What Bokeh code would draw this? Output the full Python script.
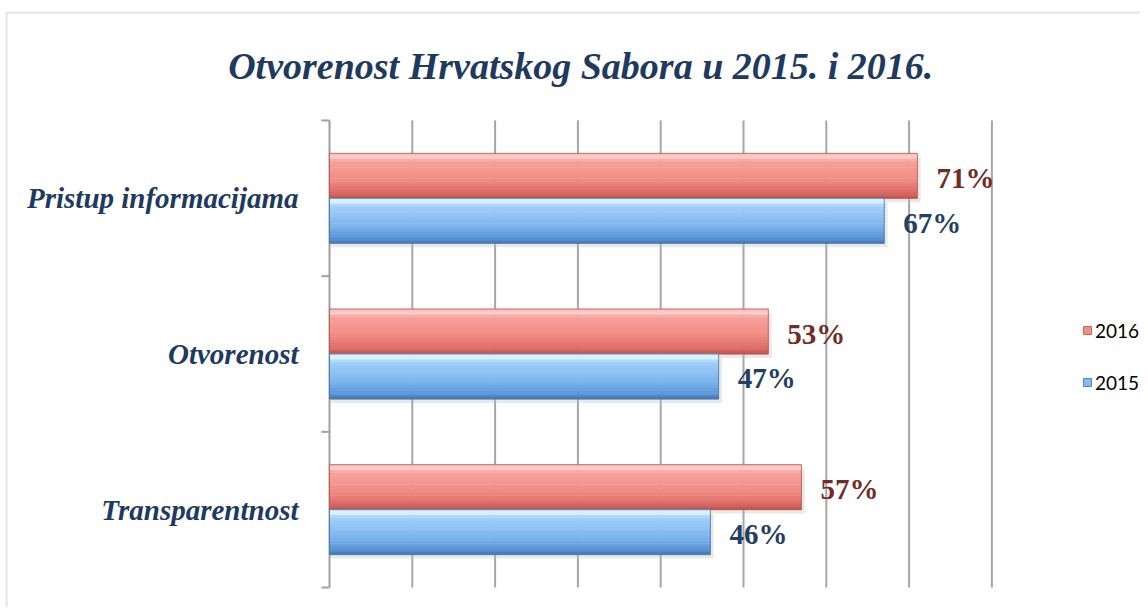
import math
from bokeh.plotting import figure
from bokeh.models import (Range1d, Label, Legend, LegendItem, BoxAnnotation,
                          ColumnDataSource)
from bokeh.core.properties import value
from bokeh.embed import file_html
from bokeh.resources import INLINE

# ---- data ----
categories = ["Pristup informacijama", "Otvorenost", "Transparentnost"]
years = ["2016", "2015"]
values_2016 = [71, 53, 57]
values_2015 = [67, 47, 46]
grid_ticks = [10, 20, 30, 40, 50, 60, 70, 80]
title_text = "Otvorenost Hrvatskog Sabora  u 2015. i 2016."

# ---- layout constants (pixels) ----
W, H = 1140, 607
X0_PX, PX_PER_PCT = 329, 8.28          # where 0 % sits, pixels per percent
Y0_PX, PX_PER_CAT = 587, 155.67        # bottom of the category band, pixels per category
n = len(categories)


def xd(px):   # canvas px -> data x
    return (px - X0_PX) / PX_PER_PCT


def yd(py):   # canvas px (from top) -> data y
    return (Y0_PX - py) / PX_PER_CAT


BAR_H = 0.289
red_stops = [(0.0, "#F3A9A4"), (0.06, "#FDDCD9"), (0.18, "#F7A19B"),
             (0.6, "#F18B85"), (0.88, "#DC6A64"), (1.0, "#BE534E")]
blue_stops = [(0.0, "#BFE6FF"), (0.06, "#EAFDFF"), (0.18, "#A2CFFB"),
              (0.6, "#7EB6F0"), (0.88, "#5D96D8"), (1.0, "#4375B2")]


def interp(stops, t):
    for (t0, c0), (t1, c1) in zip(stops[:-1], stops[1:]):
        if t0 <= t <= t1:
            f = 0 if t1 == t0 else (t - t0) / (t1 - t0)
            a = [int(c0[i:i + 2], 16) for i in (1, 3, 5)]
            b = [int(c1[i:i + 2], 16) for i in (1, 3, 5)]
            return "#%02X%02X%02X" % tuple(round(x + (y - x) * f) for x, y in zip(a, b))
    return stops[-1][1]


centers = [n - 0.5 - i for i in range(n)]
AXIS_COL = "#A0A0A0"
TEXT_COL = "#1F3A5F"

p = figure(width=W, height=H, output_backend="svg", toolbar_location=None,
           x_range=Range1d(xd(0), xd(W)), y_range=Range1d(yd(H), yd(0)),
           x_axis_location=None, y_axis_location=None,
           min_border=0, outline_line_color=None, title=None)
p.background_fill_color = "white"
p.border_fill_color = "white"
p.grid.visible = False

# outer chart border (top and left edges visible)
p.add_layout(BoxAnnotation(left=xd(6), top=yd(12), right=xd(W + 50), bottom=yd(H + 50),
                           fill_alpha=0, line_color="#A6A6A6", line_width=2))

# vertical grid lines
p.segment(x0=grid_ticks, x1=grid_ticks, y0=0, y1=n, line_color="#A6A6A6", line_width=2)

# category axis: line, ticks at band boundaries, labels at band centers
p.segment(x0=[0], x1=[0], y0=[0], y1=[n], line_color=AXIS_COL, line_width=2)
p.ray(x=0, y=list(range(n + 1)), length=8, length_units="screen", angle=math.pi,
      line_color=AXIS_COL, line_width=2)
p.text(x=0, y=centers, text=categories, x_offset=-31, text_align="right",
       text_baseline="middle", text_font=value("Liberation Serif"),
       text_font_style="bold italic", text_font_size="29px", text_color=TEXT_COL)

# bars with vertical gradient
N = 16
legend_rs = {}
for year, vals, stops, edge, offs in [
        ("2016", values_2016, red_stops, "#B8504B", +0.5),
        ("2015", values_2015, blue_stops, "#41709F", -0.5)]:
    ybar = [c + offs * BAR_H for c in centers]
    p.hbar(y=[y - 0.025 for y in ybar], left=0, right=[v + 0.4 for v in vals],
           height=BAR_H, fill_color="#BFBFBF", fill_alpha=0.35, line_color=None)
    mid = None
    for k in range(N):
        t = (k + 0.5) / N
        yk = [y + BAR_H / 2 - t * BAR_H for y in ybar]
        r = p.hbar(y=yk, left=0, right=vals, height=BAR_H / N * 1.15,
                   fill_color=interp(stops, t), line_color=None)
        if k == N // 2:
            mid = r
    outline = p.hbar(y=ybar, left=0, right=vals, height=BAR_H, fill_color=None,
                     line_color=edge, line_width=1, line_alpha=0.8)
    legend_rs[year] = [mid, outline]

# value labels
for vals, offs, col in [(values_2016, +0.5, "#722B27"), (values_2015, -0.5, "#243F63")]:
    src = ColumnDataSource(dict(x=vals, y=[c + offs * BAR_H for c in centers],
                                t=["%d%%" % v for v in vals]))
    p.text(x="x", y="y", text="t", source=src, x_offset=19, y_offset=2,
           text_baseline="middle", text_align="left",
           text_font=value("Liberation Serif"), text_font_style="bold",
           text_font_size="29px", text_color=col)

# title
p.add_layout(Label(x=xd(585), y=yd(65), text=title_text, text_align="center",
                   text_baseline="alphabetic", text_font="Liberation Serif",
                   text_font_style="bold italic", text_font_size="38px",
                   text_color=TEXT_COL))

# legend
legend = Legend(items=[LegendItem(label=y, renderers=legend_rs[y]) for y in years],
                location=(1082, H - 394), orientation="vertical",
                glyph_width=10, glyph_height=10, label_height=24,
                spacing=28, padding=0, margin=0, border_line_color=None,
                background_fill_alpha=0, label_text_font="Lato",
                label_text_font_size="19px", label_text_color="#000000",
                label_standoff=3)
p.add_layout(legend, "center")

open("out.html", "w").write(file_html(p, INLINE))
